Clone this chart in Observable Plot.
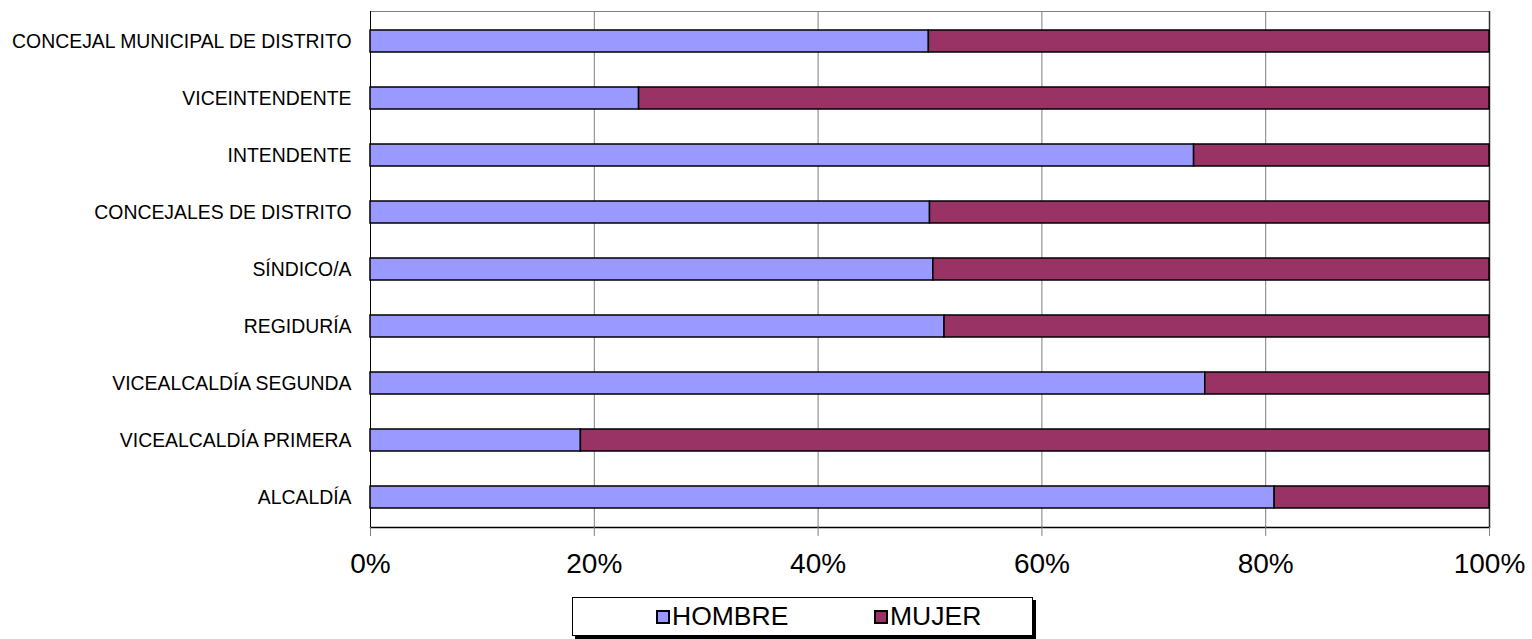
<!DOCTYPE html>
<html>
<head>
<meta charset="utf-8">
<script src="https://cdn.jsdelivr.net/npm/d3@7"></script>
<script src="https://cdn.jsdelivr.net/npm/@observablehq/plot@0.6"></script>
<style>
  html, body { margin: 0; padding: 0; background: #fff; }
  body { width: 1532px; height: 639px; position: relative; overflow: hidden; font-family: "Liberation Sans", Arial, sans-serif; }
  #chart { position: absolute; left: 0; top: 0; }
  #legend { position: absolute; left: 572px; top: 597px; width: 459px; height: 37px; border: 1px solid #000; box-shadow: 3px 3px 0 #000; background: #fff; font-size: 26.5px; color: #000; }
  .item { position: absolute; top: 0; height: 37px; display: flex; align-items: center; }
  .sw { width: 10px; height: 10px; border: 2px solid #000; margin-right: 2px; box-sizing: content-box; }
</style>
</head>
<body>
<div id="chart"></div>
<div id="legend"></div>
<script>
const categories = ["CONCEJAL MUNICIPAL DE DISTRITO", "VICEINTENDENTE", "INTENDENTE", "CONCEJALES DE DISTRITO", "SÍNDICO/A", "REGIDURÍA", "VICEALCALDÍA SEGUNDA", "VICEALCALDÍA PRIMERA", "ALCALDÍA"];
const series = ["HOMBRE", "MUJER"];
const hombre = [49.9, 24.0, 73.6, 50.0, 50.3, 51.3, 74.6, 18.8, 80.8];
const mujer = [50.1, 76.0, 26.4, 50.0, 49.7, 48.7, 25.4, 81.2, 19.2];
const colors = ["#9999FF", "#993366"];
const xTicks = [0, 20, 40, 60, 80, 100];

const data = [];
categories.forEach((c, i) => {
  data.push({cat: c, series: series[0], value: hombre[i]});
  data.push({cat: c, series: series[1], value: mujer[i]});
});

const chart = Plot.plot({
  width: 1532,
  height: 590,
  marginLeft: 370,
  marginRight: 43,
  marginTop: 11,
  marginBottom: 63,
  style: {fontFamily: "'Liberation Sans', Arial, sans-serif", color: "#000", background: "#fff"},
  x: {domain: [0, 100], ticks: xTicks, tickFormat: d => d + "%", label: null},
  y: {domain: categories, label: null, paddingInner: 0.61, paddingOuter: 0.305},
  color: {domain: series, range: colors},
  marks: [
    Plot.gridX([20, 40, 60, 80], {stroke: "#808080", strokeOpacity: 1, strokeWidth: 1}),
    Plot.frame({stroke: "#808080", strokeWidth: 1}),
    Plot.ruleX([0], {stroke: "#000", strokeWidth: 1}),
    Plot.ruleX([100], {stroke: "#333", strokeWidth: 1.5}),
    Plot.frame({anchor: "bottom", stroke: "#000", strokeWidth: 1.5}),
    Plot.barX(data, Plot.stackX({x: "value", y: "cat", fill: "series", stroke: "#000", strokeWidth: 1.5, order: series})),
    Plot.axisX({ticks: xTicks, tickFormat: d => d + "%", tickSize: 9, tickPadding: 17, fontSize: 28, stroke: "#808080", label: null}),
    Plot.axisY({tickSize: 0, tickPadding: 19, fontSize: 19.4, label: null})
  ]
});
document.getElementById("chart").appendChild(chart);

const legend = document.getElementById("legend");
const itemLeft = [83, 301];
series.forEach((s, i) => {
  const item = document.createElement("div");
  item.className = "item";
  item.style.left = itemLeft[i] + "px";
  const sw = document.createElement("div");
  sw.className = "sw";
  sw.style.background = colors[i];
  const t = document.createElement("span");
  t.textContent = s;
  item.appendChild(sw);
  item.appendChild(t);
  legend.appendChild(item);
});
</script>
</body>
</html>
